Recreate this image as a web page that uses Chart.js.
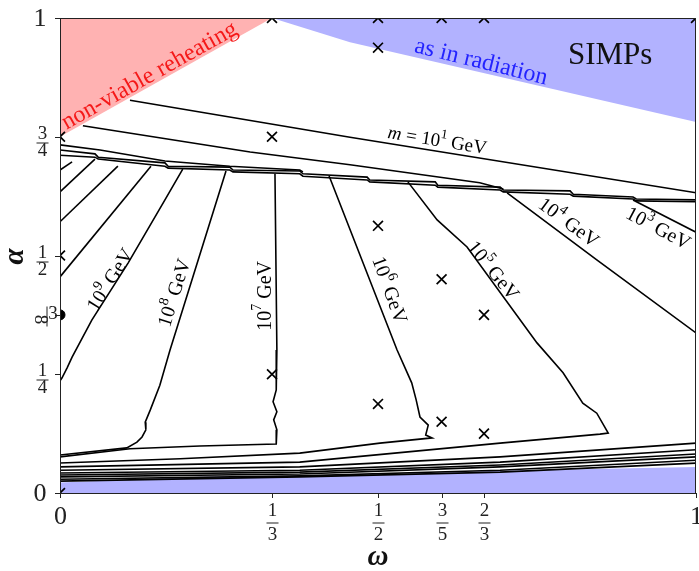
<!DOCTYPE html>
<html>
<head>
<meta charset="utf-8">
<script src="https://cdn.jsdelivr.net/npm/chart.js@4.4.0/dist/chart.umd.min.js"></script>
<style>
  body { margin: 0; background: #fff; }
  #wrap { width: 699px; height: 571px; }
</style>
</head>
<body>
<div id="wrap"><canvas id="c" width="699" height="571"></canvas></div>
<script>
// regions (omega, alpha)
const redRegion = [[0, 0.75], [1/3, 1]];
const blueTop = [[1/3, 1], [0.456, 0.949], [1, 0.781]];
const blueBottom = [[0, 0.022], [0.22, 0.034], [0.45, 0.037], [0.69, 0.047], [1, 0.055]];

// upper lines
const line10 = [[0.110, 0.827], [0.456, 0.749], [1, 0.632]];
const lineU2 = [[0.036, 0.773], [0.299, 0.718], [0.456, 0.691], [0.660, 0.653], [0.697, 0.640]];
const band0 = [[0, 0.733], [0.063, 0.722], [0.165, 0.699], [0.267, 0.688], [0.377, 0.680], [0.382, 0.676]];
const band1 = [[0, 0.722], [0.055, 0.714], [0.060, 0.707], [0.165, 0.695], [0.170, 0.688], [0.267, 0.686], [0.272, 0.680],
  [0.377, 0.678], [0.382, 0.672], [0.483, 0.665], [0.487, 0.659], [0.590, 0.655], [0.594, 0.648], [0.692, 0.644],
  [0.697, 0.638], [0.802, 0.636], [0.807, 0.629], [0.901, 0.623], [0.906, 0.619], [1, 0.617]];
const band2 = [[0, 0.711], [0.055, 0.707], [0.060, 0.703], [0.165, 0.688], [0.170, 0.684], [0.267, 0.680], [0.272, 0.676],
  [0.377, 0.672], [0.382, 0.667], [0.483, 0.659], [0.487, 0.655], [0.590, 0.648], [0.594, 0.644], [0.692, 0.638],
  [0.697, 0.634], [0.802, 0.629], [0.807, 0.625], [0.901, 0.619], [0.906, 0.615], [1, 0.613]];

// contours going down from the band
const m13 = [[0.019, 0.697], [0, 0.680]];
const m12 = [[0.055, 0.703], [0, 0.634]];
const m11 = [[0.091, 0.688], [0, 0.571]];
const m10 = [[0.143, 0.688], [0, 0.455]];
const m9 = [[0.193, 0.682], [0.165, 0.617], [0.107, 0.484], [0.050, 0.364], [0.019, 0.286], [0.011, 0.263], [0.003, 0.242], [0, 0.236]];
const m8 = [[0.261, 0.678], [0.173, 0.301], [0.157, 0.227], [0.142, 0.175], [0.134, 0.149], [0.135, 0.133], [0.129, 0.118],
  [0.121, 0.107], [0.105, 0.095], [0, 0.080]];
const m7 = [[0.338, 0.672], [0.341, 0.301], [0.340, 0.217], [0.335, 0.192], [0.341, 0.171], [0.336, 0.154], [0.341, 0.133],
  [0.340, 0.103], [0.220, 0.099], [0.110, 0.093], [0, 0.076]];
const m6 = [[0.423, 0.668], [0.530, 0.301], [0.542, 0.265], [0.553, 0.232], [0.560, 0.196], [0.566, 0.160], [0.579, 0.143],
  [0.575, 0.122], [0.585, 0.116], [0.503, 0.105], [0.377, 0.084], [0.189, 0.072], [0, 0.063]];
const m5 = [[0.547, 0.655], [0.593, 0.575], [0.640, 0.518], [0.750, 0.316], [0.791, 0.253], [0.822, 0.189], [0.844, 0.168],
  [0.862, 0.126], [0.849, 0.124], [0.692, 0.105], [0.377, 0.065], [0, 0.055]];
const m4 = [[0.703, 0.632], [0.844, 0.491], [1, 0.337]];
const m3 = [[0.901, 0.617], [1, 0.549]];

// lower lines
const b4 = [[0, 0.048], [0.377, 0.055], [0.692, 0.076], [1, 0.105]];
const b3 = [[0, 0.042], [0.377, 0.048], [0.692, 0.065], [1, 0.091]];
const b2 = [[0, 0.038], [0.377, 0.044], [0.692, 0.059], [1, 0.082]];
const b1 = [[0, 0.034], [0.377, 0.040], [0.692, 0.055], [1, 0.076]];
const b0 = [[0, 0.029], [0.377, 0.036], [0.692, 0.048], [1, 0.069]];
const bm = [[0, 0.025], [0.377, 0.034], [0.692, 0.044], [1, 0.063]];

// markers
const crosses = [[0, 0.75], [0, 0.5], [0, 0], [1/3, 1], [0.5, 1], [0.6, 1], [2/3, 1], [1, 1], [0.5, 0.9375],
  [1/3, 0.75], [1/3, 0.25], [0.5, 0.5625], [0.6, 0.45], [2/3, 0.375], [0.5, 0.1875], [0.6, 0.15], [2/3, 0.125]];
const dots = [[0, 0.375]];

// ticks
const xTicks = [[0, '0'], [1/3, '1', '3'], [0.5, '1', '2'], [0.6, '3', '5'], [2/3, '2', '3'], [1, '1']];
const yTicks = [[0, '0'], [0.25, '1', '4'], [0.375, '3', '8'], [0.5, '1', '2'], [0.75, '3', '4'], [1, '1']];

const SERIF = '"Liberation Serif", "DejaVu Serif", serif';

const toXY = pts => pts.map(p => ({ x: p[0], y: p[1] }));
const line = pts => ({
    data: toXY(pts), showLine: true, borderColor: '#000', borderWidth: 1.6,
    pointRadius: 0, fill: false, tension: 0, order: 2
});
const region = (pts, fill, color) => ({
    data: toXY(pts), showLine: true, borderWidth: 0, borderColor: 'rgba(0,0,0,0)',
    backgroundColor: color, pointRadius: 0, fill: fill, tension: 0, order: 10
});

function richText(ctx, segs, cx, cy, angle, size, color) {
    const fontOf = s => (s.it ? 'italic ' : '') + (s.sup ? Math.round(size * 0.7) : size) + 'px ' + SERIF;
    ctx.save();
    ctx.translate(cx, cy);
    ctx.rotate(angle * Math.PI / 180);
    ctx.fillStyle = color;
    ctx.textBaseline = 'middle';
    ctx.textAlign = 'left';
    const widths = segs.map(s => { ctx.font = fontOf(s); return ctx.measureText(s.t).width; });
    let x = -widths.reduce((a, b) => a + b, 0) / 2;
    segs.forEach((s, i) => {
        ctx.font = fontOf(s);
        ctx.fillText(s.t, x, s.sup ? -size * 0.38 : 0);
        x += widths[i];
    });
    ctx.restore();
}

const gev = e => [{ t: '10' }, { t: e, sup: true }, { t: ' GeV' }];
const labels = [
    { segs: [{ t: 'non-viable reheating' }], at: [0.141, 0.878], angle: -29.3, size: 24, color: 'rgb(245,25,25)' },
    { segs: [{ t: 'as in radiation' }], at: [0.662, 0.907], angle: 13.8, size: 24, color: 'rgb(35,35,255)' },
    { segs: [{ t: 'SIMPs' }], at: [0.865, 0.920], angle: 0, size: 31, color: '#111' },
    { segs: [{ t: 'm', it: true }, { t: ' = 10' }, { t: '1', sup: true }, { t: ' GeV' }], at: [0.593, 0.741], angle: 9.2, size: 19, color: '#000' },
    { segs: gev('9'), at: [0.080, 0.448], angle: -58, size: 20, color: '#000' },
    { segs: gev('8'), at: [0.181, 0.421], angle: -72.6, size: 20, color: '#000' },
    { segs: gev('7'), at: [0.323, 0.415], angle: -90, size: 20, color: '#000' },
    { segs: gev('6'), at: [0.517, 0.427], angle: 70, size: 20, color: '#000' },
    { segs: gev('5'), at: [0.680, 0.467], angle: 51, size: 20, color: '#000' },
    { segs: gev('4'), at: [0.799, 0.568], angle: 36.5, size: 20, color: '#000' },
    { segs: gev('3'), at: [0.940, 0.556], angle: 28, size: 20, color: '#000' }
];

const extras = {
    id: 'extras',
    afterDraw(chart) {
        const ctx = chart.ctx;
        const xs = chart.scales.x, ys = chart.scales.y;
        const a = chart.chartArea;

        // in-plot texts
        labels.forEach(l => {
            richText(ctx, l.segs, xs.getPixelForValue(l.at[0]), ys.getPixelForValue(l.at[1]), l.angle, l.size, l.color);
        });

        // frame
        ctx.save();
        ctx.strokeStyle = '#222';
        ctx.lineWidth = 1;
        ctx.strokeRect(Math.round(a.left) + 0.5, Math.round(a.top) + 0.5, Math.round(a.right - a.left) - 1, Math.round(a.bottom - a.top));

        ctx.fillStyle = '#222';
        ctx.textAlign = 'center';
        ctx.textBaseline = 'middle';

        // x ticks
        xTicks.forEach(t => {
            const px = Math.round(xs.getPixelForValue(t[0])) + 0.5;
            ctx.beginPath();
            ctx.moveTo(px, a.bottom);
            ctx.lineTo(px, a.bottom + 5);
            ctx.stroke();
            if (t.length === 2) {
                ctx.font = '26px ' + SERIF;
                ctx.fillText(t[1], px, 517);
            } else {
                ctx.font = '19px ' + SERIF;
                ctx.fillText(t[1], px, 511);
                ctx.fillText(t[2], px, 535);
                ctx.fillRect(px - 6, 522.5, 12, 1);
            }
        });

        // y ticks
        yTicks.forEach(t => {
            const py = Math.round(ys.getPixelForValue(t[0])) + 0.5;
            ctx.beginPath();
            ctx.moveTo(a.left - 5, py);
            ctx.lineTo(a.left, py);
            ctx.stroke();
            if (t.length === 2) {
                ctx.font = '26px ' + SERIF;
                ctx.fillText(t[1], 40, py + 1);
            } else if (t[0] === 0.375) {
                // squeezed label as in the picture
                ctx.font = '19px ' + SERIF;
                ctx.fillText(t[1], 53, py - 1);
                ctx.fillRect(46.5, py - 9, 1, 20);
                ctx.save();
                ctx.translate(40, py + 4);
                ctx.rotate(Math.PI / 2);
                ctx.fillText(t[2], 0, 0);
                ctx.restore();
            } else {
                const bar = py + 5;
                ctx.font = '19px ' + SERIF;
                ctx.fillText(t[1], 42.5, bar - 8);
                ctx.fillText(t[2], 42.5, bar + 9);
                ctx.fillRect(36.5, bar, 12, 1);
            }
        });

        // axis titles
        ctx.fillStyle = '#111';
        ctx.font = 'italic bold 29px ' + SERIF;
        ctx.fillText('\u03c9', xs.getPixelForValue(0.5), 558);
        ctx.save();
        ctx.translate(16, ys.getPixelForValue(0.5) + 1);
        ctx.rotate(-Math.PI / 2);
        ctx.fillText('\u03b1', 0, 0);
        ctx.restore();
        ctx.restore();
    }
};

const contourSets = [line10, lineU2, band0, band1, band2, m13, m12, m11, m10, m9, m8, m7, m6, m5, m4, m3, b4, b3, b2, b1, b0, bm];

new Chart(document.getElementById('c'), {
    type: 'scatter',
    data: {
        datasets: [
            {
                data: toXY(crosses), pointStyle: 'crossRot', pointRadius: 7, pointBorderWidth: 1.7,
                borderColor: '#000', backgroundColor: '#000', showLine: false, order: 0
            },
            {
                data: toXY(dots), pointStyle: 'circle', pointRadius: 5, borderColor: '#000',
                backgroundColor: '#000', showLine: false, order: 0
            },
            ...contourSets.map(line),
            region(redRegion, 'end', 'rgb(255,178,178)'),
            region(blueTop, 'end', 'rgb(178,178,255)'),
            region(blueBottom, 'start', 'rgb(178,178,255)')
        ]
    },
    options: {
        responsive: false,
        animation: false,
        devicePixelRatio: 1,
        layout: { autoPadding: false, padding: { left: 60, top: 18, right: 3, bottom: 78 } },
        scales: {
            x: {
                type: 'linear', min: 0, max: 1,
                grid: { display: false, drawTicks: false }, border: { display: false }, ticks: { display: false }
            },
            y: {
                type: 'linear', min: 0, max: 1,
                grid: { display: false, drawTicks: false }, border: { display: false }, ticks: { display: false }
            }
        },
        plugins: { legend: { display: false }, tooltip: { enabled: false } }
    },
    plugins: [extras]
});
</script>
</body>
</html>
